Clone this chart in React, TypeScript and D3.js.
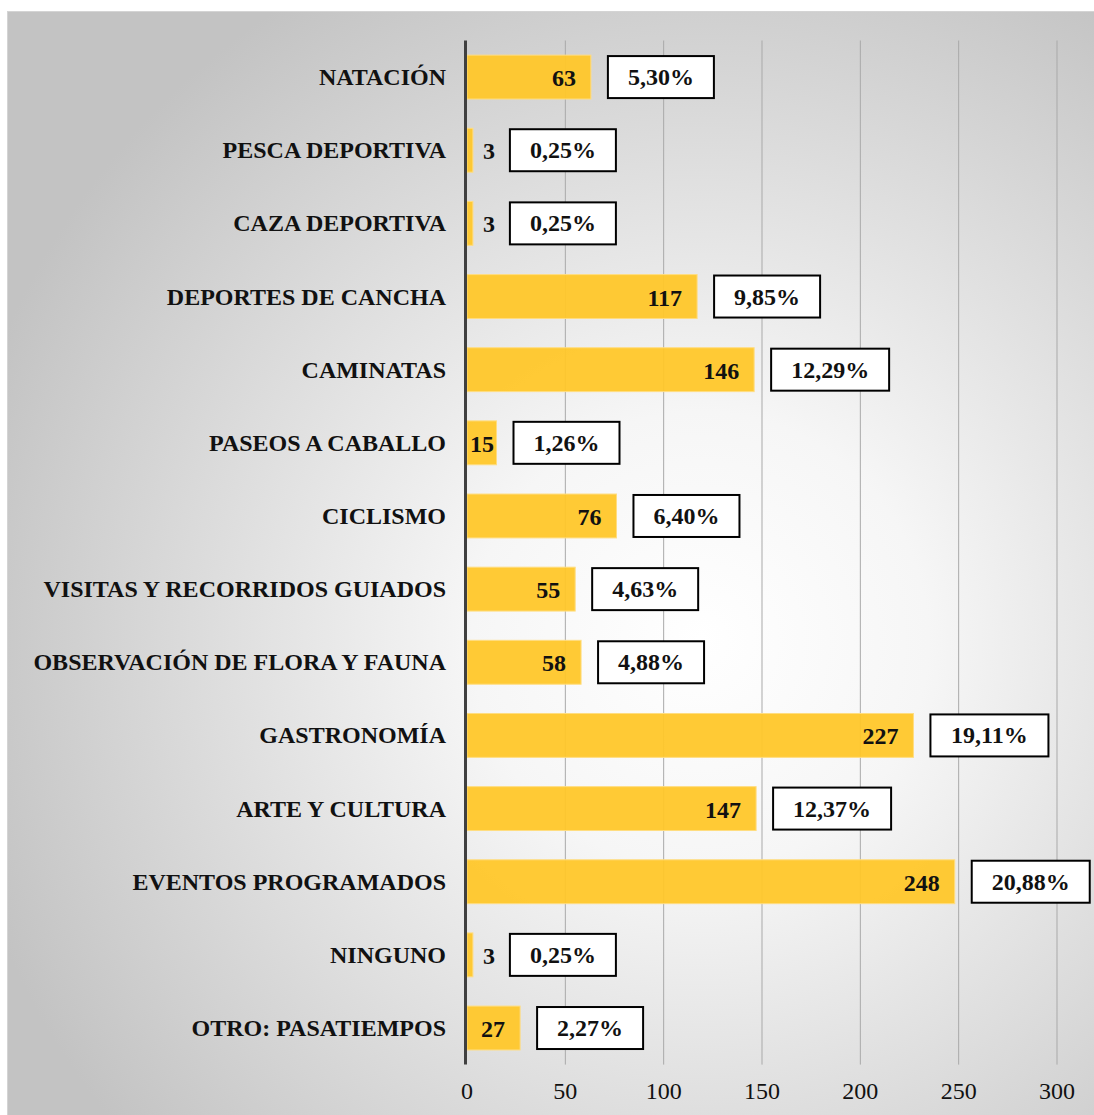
import React from "react";
import * as d3 from "d3";

const categories = [
  "NATACIÓN",
  "PESCA DEPORTIVA",
  "CAZA DEPORTIVA",
  "DEPORTES DE CANCHA",
  "CAMINATAS",
  "PASEOS A CABALLO",
  "CICLISMO",
  "VISITAS Y RECORRIDOS GUIADOS",
  "OBSERVACIÓN DE FLORA Y FAUNA",
  "GASTRONOMÍA",
  "ARTE Y CULTURA",
  "EVENTOS PROGRAMADOS",
  "NINGUNO",
  "OTRO: PASATIEMPOS",
];
const values = [63, 3, 3, 117, 146, 15, 76, 55, 58, 227, 147, 248, 3, 27];
const percents = [
  "5,30%", "0,25%", "0,25%", "9,85%", "12,29%", "1,26%", "6,40%",
  "4,63%", "4,88%", "19,11%", "12,37%", "20,88%", "0,25%", "2,27%",
];
const ticks = [0, 50, 100, 150, 200, 250, 300];

const W = 1094;
const H = 1115;
const FONT = "'Liberation Serif', 'Times New Roman', serif";
const FS = 24;

function estWidth(s: string, fs: number) {
  let w = 0;
  for (const c of s) {
    if (c === ",") w += 0.25;
    else if (c === "%") w += 1.0;
    else w += 0.5;
  }
  return w * fs;
}

export default function App() {
  const x = d3.scaleLinear().domain([0, 300]).range([467, 1057]);
  const y = d3
    .scaleBand<string>()
    .domain(categories)
    .range([40.5, 1064.6])
    .paddingInner(0.4)
    .paddingOuter(0.2);
  const bw = y.bandwidth();
  const top = y.range()[0];
  const bottom = y.range()[1];

  return (
    <svg
      width={W}
      height={H}
      style={{ position: "absolute", left: 0, top: 0, display: "block" }}
      fontFamily={FONT}
    >
      <defs>
        <radialGradient id="bg" gradientUnits="userSpaceOnUse" cx={700} cy={640} r={760}>
          <stop offset="0" stopColor="#ffffff" />
          <stop offset="0.3" stopColor="#f6f6f6" />
          <stop offset="1" stopColor="#c3c3c3" />
        </radialGradient>
      </defs>
      <rect x={0} y={0} width={W} height={H} fill="#ffffff" />
      <rect x={7.5} y={11.5} width={W} height={H} fill="url(#bg)" stroke="#d4d4d4" strokeWidth={1} />

      {/* gridlines */}
      {ticks.slice(1).map((t) => (
        <line key={t} x1={x(t)} x2={x(t)} y1={top} y2={bottom} stroke="#a9a9a9" strokeWidth={1} />
      ))}

      {/* bars */}
      {categories.map((c, i) => {
        const v = values[i];
        const y0 = y(c) as number;
        return (
          <rect
            key={c}
            x={x(0)}
            y={y0}
            width={x(v) - x(0)}
            height={bw}
            fill="#FFC72A"
            fillOpacity={0.95}
            stroke="#FFDD80"
            strokeWidth={1}
          />
        );
      })}

      {/* axis line */}
      <line x1={x(0) - 1.5} x2={x(0) - 1.5} y1={top} y2={bottom} stroke="#404040" strokeWidth={3} />

      {/* category labels */}
      {categories.map((c) => (
        <text
          key={c}
          x={446}
          y={(y(c) as number) + bw / 2}
          textAnchor="end"
          dominantBaseline="central"
          fontSize={FS}
          fontWeight="bold"
          fill="#111"
        >
          {c}
        </text>
      ))}

      {/* value labels and percentage boxes */}
      {categories.map((c, i) => {
        const v = values[i];
        const cy = (y(c) as number) + bw / 2;
        const end = x(v);
        const lbl = String(v);
        const lw = estWidth(lbl, FS);
        const outside = v < 10;
        const labelX = outside ? end + 10 : Math.max(end - 15, x(0) + 3 + lw);
        const labelEnd = outside ? end + 10 + lw : end;
        const boxX = outside ? labelEnd + 15 : end + 17;
        const pw = estWidth(percents[i], FS) + 40;
        const bh = 42;
        return (
          <g key={c}>
            <text
              x={labelX}
              y={cy + 1}
              textAnchor={outside ? "start" : "end"}
              dominantBaseline="central"
              fontSize={FS}
              fontWeight="bold"
              fill="#111"
            >
              {lbl}
            </text>
            <rect x={boxX} y={cy - bh / 2} width={pw} height={bh} fill="#ffffff" stroke="#000" strokeWidth={2} />
            <text
              x={boxX + pw / 2}
              y={cy}
              textAnchor="middle"
              dominantBaseline="central"
              fontSize={FS}
              fontWeight="bold"
              fill="#111"
            >
              {percents[i]}
            </text>
          </g>
        );
      })}

      {/* tick labels */}
      {ticks.map((t) => (
        <text
          key={t}
          x={x(t)}
          y={1091}
          textAnchor="middle"
          dominantBaseline="central"
          fontSize={FS}
          fill="#111"
        >
          {t}
        </text>
      ))}
    </svg>
  );
}
